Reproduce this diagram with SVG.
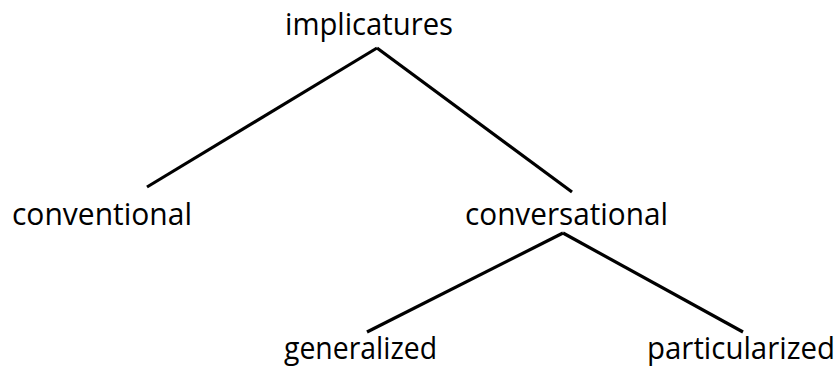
<svg xmlns="http://www.w3.org/2000/svg" width="839" height="366" viewBox="0 0 839 366">
<style>
.t{font-family:"Open Sans","Noto Sans","Liberation Sans",sans-serif;font-size:31px;fill:#000}
.c{stroke:#000;stroke-width:3.2;fill:none;stroke-linecap:butt}
</style>
<rect width="839" height="366" fill="#fff"/>
<g id="connectors">
<line class="c" x1="147" y1="187" x2="377" y2="48"/>
<line class="c" x1="377" y1="48" x2="572" y2="192"/>
<line class="c" x1="367" y1="332" x2="563" y2="233"/>
<line class="c" x1="563" y1="233" x2="743" y2="332"/>
</g>
<g id="implicatures"><text class="t" x="285" y="35" textLength="168" lengthAdjust="spacingAndGlyphs">implicatures</text></g>
<g id="conventional"><text class="t" x="12" y="225" textLength="180" lengthAdjust="spacingAndGlyphs">conventional</text></g>
<g id="conversational"><text class="t" x="465" y="225" textLength="203" lengthAdjust="spacingAndGlyphs">conversational</text></g>
<g id="generalized"><text class="t" x="284" y="359" textLength="153" lengthAdjust="spacingAndGlyphs">generalized</text></g>
<g id="particularized"><text class="t" x="647" y="359" textLength="188" lengthAdjust="spacingAndGlyphs">particularized</text></g>
</svg>
